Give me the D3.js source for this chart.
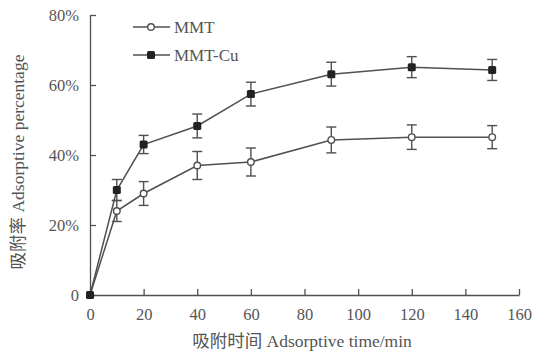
<!DOCTYPE html>
<html>
<head>
<meta charset="utf-8">
<script src="https://cdn.jsdelivr.net/npm/d3@7"></script>
<style>
  body { margin: 0; background: #fff; }
  text { font-family: "Liberation Serif", "Noto Sans CJK SC", serif; fill: #555; }
</style>
</head>
<body>
<div class="root"></div>
<script>
const times = [0, 10, 20, 40, 60, 90, 120, 150];
const mmt = [0, 24, 29, 37, 38, 44.3, 45.1, 45.1];
const mmtErr = [0, 3, 3.4, 4, 4, 3.7, 3.5, 3.3];
const mmtCu = [0, 30, 43, 48.3, 57.4, 63.1, 65.1, 64.3];
const mmtCuErr = [0, 3, 2.6, 3.4, 3.4, 3.4, 3, 3];
const xTicks = [0, 20, 40, 60, 80, 100, 120, 140, 160];
const yTicks = [0, 20, 40, 60, 80];

const svgWidth = 534;
const svgHeight = 355;
const margin = { top: 15, right: 15, bottom: 60, left: 90 };
const width = 519 - margin.left;
const height = 295 - margin.top;
const ink = '#505050';

const svg = d3.select('.root')
  .append('svg')
  .attr('width', svgWidth)
  .attr('height', svgHeight);

const g = svg.append('g')
  .attr('transform', `translate(${margin.left}, ${margin.top})`);

const x = d3.scaleLinear().domain([0, 160]).range([0, width]);
const y = d3.scaleLinear().domain([0, 80]).range([height, 0]);

// axes, ticks point inward
const xAxis = g.append('g')
  .attr('transform', `translate(0,${height})`)
  .call(d3.axisBottom(x).tickValues(xTicks).tickSize(-6).tickSizeOuter(0).tickPadding(13));
const yAxis = g.append('g')
  .call(d3.axisLeft(y).tickValues(yTicks).tickSize(-6).tickSizeOuter(0).tickPadding(11)
    .tickFormat(d => d === 0 ? '0' : d + '%'));
[xAxis, yAxis].forEach(a => {
  a.selectAll('path, line').attr('stroke', ink).attr('stroke-width', 1.3);
  a.selectAll('text').attr('font-size', 16.5).style('fill', '#555');
});

const series = [
  { name: 'MMT', values: mmt, err: mmtErr },
  { name: 'MMT-Cu', values: mmtCu, err: mmtCuErr }
];

const line = d3.line()
  .x((d, i) => x(times[i]))
  .y(d => y(d));

series.forEach(s => {
  const sg = g.append('g');
  sg.append('path')
    .attr('d', line(s.values))
    .attr('fill', 'none')
    .attr('stroke', ink)
    .attr('stroke-width', 1.5);

  const eb = sg.selectAll('.err')
    .data(s.values.map((v, i) => ({ t: times[i], v, e: s.err[i] })).filter(d => d.e > 0))
    .enter().append('g')
    .attr('stroke', ink)
    .attr('stroke-width', 1.4);
  eb.append('line')
    .attr('x1', d => x(d.t)).attr('x2', d => x(d.t))
    .attr('y1', d => y(d.v - d.e)).attr('y2', d => y(d.v + d.e));
  eb.append('line')
    .attr('x1', d => x(d.t) - 5).attr('x2', d => x(d.t) + 5)
    .attr('y1', d => y(d.v + d.e)).attr('y2', d => y(d.v + d.e));
  eb.append('line')
    .attr('x1', d => x(d.t) - 5).attr('x2', d => x(d.t) + 5)
    .attr('y1', d => y(d.v - d.e)).attr('y2', d => y(d.v - d.e));

  if (s.name === 'MMT') {
    sg.selectAll('.pt').data(s.values).enter().append('circle')
      .attr('cx', (d, i) => x(times[i])).attr('cy', d => y(d))
      .attr('r', 3.3).attr('fill', '#fff').attr('stroke', ink).attr('stroke-width', 1.4);
  } else {
    sg.selectAll('.pt').data(s.values).enter().append('rect')
      .attr('x', (d, i) => x(times[i]) - 4).attr('y', d => y(d) - 4)
      .attr('width', 8).attr('height', 8).attr('rx', 1.5).attr('fill', '#222');
  }
});

// legend
const legend = svg.append('g');
series.forEach((s, i) => {
  const ly = 27 + i * 28;
  legend.append('line')
    .attr('x1', 133).attr('x2', 170).attr('y1', ly).attr('y2', ly)
    .attr('stroke', ink).attr('stroke-width', 1.5);
  if (s.name === 'MMT') {
    legend.append('circle').attr('cx', 151).attr('cy', ly).attr('r', 3.3)
      .attr('fill', '#fff').attr('stroke', ink).attr('stroke-width', 1.4);
  } else {
    legend.append('rect').attr('x', 147).attr('y', ly - 4).attr('width', 8).attr('height', 8)
      .attr('rx', 1.5).attr('fill', '#222');
  }
  legend.append('text')
    .attr('x', 174).attr('y', ly + 6)
    .attr('font-size', 17)
    .text(s.name);
});

// axis titles
svg.append('text')
  .attr('x', 302).attr('y', 347)
  .attr('text-anchor', 'middle')
  .attr('font-size', 17.5)
  .text('吸附时间 Adsorptive time/min');

svg.append('text')
  .attr('transform', 'translate(24,162) rotate(-90)')
  .attr('text-anchor', 'middle')
  .attr('font-size', 17.5)
  .text('吸附率 Adsorptive percentage');
</script>
</body>
</html>
